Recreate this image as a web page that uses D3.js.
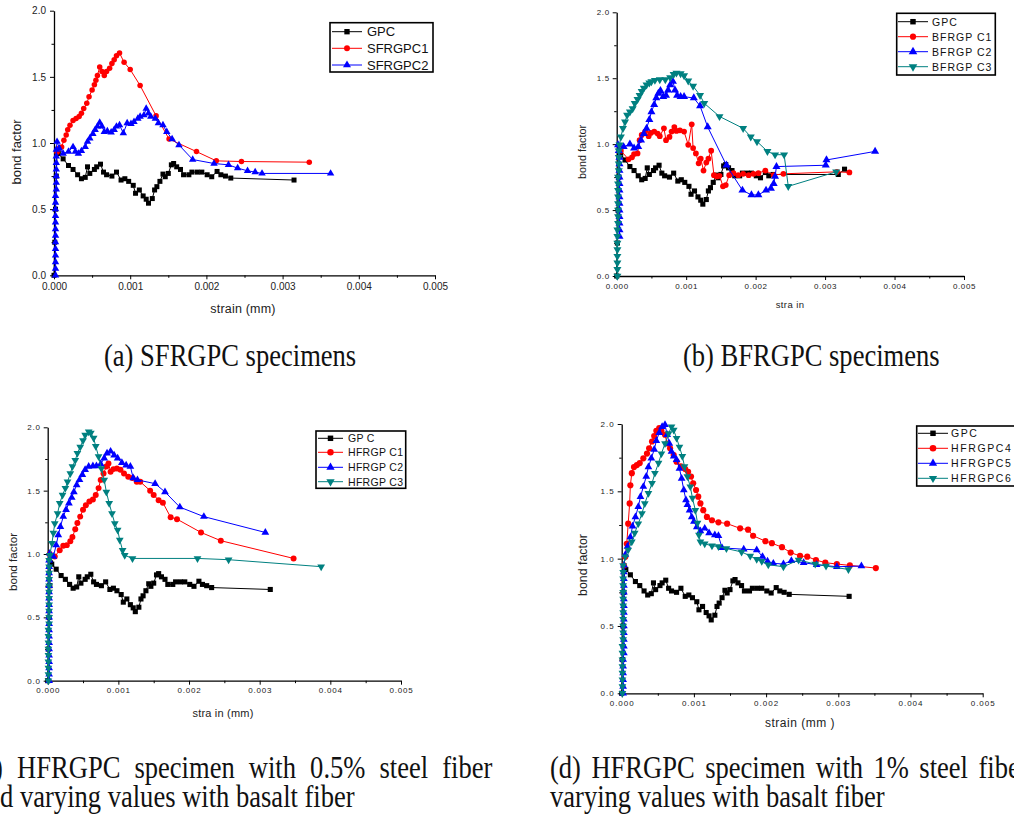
<!DOCTYPE html>
<html><head><meta charset="utf-8">
<script src="https://cdn.jsdelivr.net/npm/d3@7/dist/d3.min.js"></script>
<style>body{margin:0;background:#fff}svg{display:block}</style>
</head><body>
<svg id="fig" width="1014" height="817"></svg>
<script>
// ---------- tick labels ----------
const xTickValues = [0, 0.001, 0.002, 0.003, 0.004, 0.005];
const xTickLabels = ["0.000", "0.001", "0.002", "0.003", "0.004", "0.005"];
const xMinorValues = [0.0005, 0.0015, 0.0025, 0.0035, 0.0045];
const yTickValues = [0, 0.5, 1.0, 1.5, 2.0];
const yTickLabels = ["0.0", "0.5", "1.0", "1.5", "2.0"];
const yMinorValues = [0.25, 0.75, 1.25, 1.75];

// ---------- data: [strain, bond factor] ----------
const gpc = [[0,0],[0.00001,0.25],[0.00002,0.5],[0.00003,0.75],[0.00004,0.93],
 [0.000057,0.92],[0.00012,0.88],[0.00019,0.83],[0.00025,0.80],[0.00031,0.76],[0.00036,0.73],[0.00041,0.74],
 [0.00044,0.82],[0.00047,0.77],[0.00053,0.80],[0.00056,0.82],[0.00061,0.84],[0.00065,0.78],[0.00069,0.76],
 [0.00076,0.75],[0.00082,0.78],[0.00088,0.72],[0.00093,0.73],[0.00098,0.71],[0.00104,0.68],[0.00107,0.62],
 [0.00112,0.645],[0.00117,0.60],[0.00121,0.575],[0.00124,0.545],[0.00129,0.58],[0.00132,0.645],[0.00135,0.67],
 [0.00139,0.71],[0.00143,0.765],[0.00146,0.745],[0.0015,0.77],[0.00154,0.835],[0.00157,0.845],[0.00161,0.82],
 [0.00166,0.80],[0.0017,0.76],[0.00177,0.76],[0.00181,0.78],[0.00188,0.78],[0.00194,0.78],[0.00201,0.76],
 [0.00207,0.745],[0.00214,0.785],[0.00219,0.76],[0.00225,0.75],[0.00232,0.735],[0.00315,0.72]];

const gpcB = [[0,0],[0.00001,0.25],[0.00002,0.5],[0.00003,0.75],[0.00004,0.93],
 [0.000057,0.92],[0.00012,0.88],[0.00019,0.83],[0.00025,0.80],[0.00031,0.76],[0.00036,0.73],[0.00041,0.74],
 [0.00044,0.82],[0.00047,0.77],[0.00053,0.80],[0.00056,0.82],[0.00061,0.84],[0.00065,0.78],[0.00069,0.76],
 [0.00076,0.75],[0.00082,0.78],[0.00088,0.72],[0.00093,0.73],[0.00098,0.71],[0.00104,0.68],[0.00107,0.62],
 [0.00112,0.645],[0.00117,0.60],[0.00121,0.575],[0.00124,0.545],[0.00129,0.58],[0.00132,0.645],[0.00135,0.67],
 [0.00139,0.71],[0.00143,0.765],[0.00146,0.745],[0.0015,0.77],[0.00154,0.835],[0.00157,0.845],[0.00161,0.82],
 [0.00166,0.80],[0.0017,0.76],[0.00177,0.76],[0.00181,0.78],[0.00188,0.78],[0.00194,0.78],[0.00201,0.76],
 [0.00207,0.745],[0.00214,0.785],[0.00219,0.76],[0.00225,0.77],[0.00319,0.77],[0.00328,0.81]];

// (a)
const sfrgpc1 = [[0.00004,0.93],[0.00007,0.96],[0.0001,0.97],[0.00013,1.02],[0.00016,1.06],[0.00018,1.10],
 [0.00021,1.135],[0.00025,1.17],[0.00029,1.185],[0.00033,1.20],[0.00036,1.225],[0.00039,1.26],[0.00043,1.30],
 [0.00046,1.35],[0.0005,1.40],[0.00053,1.44],[0.00055,1.475],[0.00057,1.51],[0.0006,1.575],[0.00063,1.54],
 [0.00066,1.51],[0.00069,1.54],[0.00073,1.565],[0.00076,1.60],[0.00079,1.63],[0.00082,1.66],[0.00086,1.68],
 [0.00092,1.61],[0.001,1.555],[0.00113,1.435],[0.00134,1.205],[0.00151,1.03],[0.00187,0.935],[0.00213,0.865],
 [0.00246,0.86],[0.00335,0.855]];
const sfrgpc2 = [[0.00002,0],[0.00002,0.05],[0.00002,0.1],[0.00002,0.15],[0.00002,0.2],[0.00002,0.25],[0.00002,0.3],
 [0.00002,0.35],[0.00002,0.4],[0.00002,0.45],[0.00002,0.5],[0.00002,0.55],[0.00002,0.6],[0.00003,0.65],[0.00003,0.7],
 [0.00003,0.75],[0.00003,0.8],[0.00003,0.85],[0.00003,0.9],[0.00003,0.95],[0.00004,1.01],
 [0.00007,0.96],[0.00012,0.92],[0.00019,0.935],[0.00025,0.97],[0.00028,0.935],[0.00032,0.92],[0.00036,0.94],
 [0.00041,0.97],[0.00044,1.01],[0.00047,1.035],[0.00051,1.07],[0.00054,1.10],[0.00057,1.125],[0.0006,1.155],
 [0.00063,1.125],[0.00066,1.085],[0.0007,1.09],[0.00075,1.08],[0.00079,1.10],[0.00082,1.125],[0.00086,1.135],
 [0.00091,1.075],[0.00096,1.15],[0.00101,1.145],[0.00105,1.16],[0.0011,1.185],[0.00113,1.20],[0.00118,1.21],
 [0.00121,1.26],[0.00124,1.225],[0.00127,1.20],[0.00133,1.185],[0.00137,1.15],[0.00143,1.135],[0.00148,1.085],
 [0.00155,1.03],[0.00164,0.985],[0.00182,0.875],[0.0021,0.845],[0.00229,0.835],[0.00241,0.81],[0.00254,0.79],
 [0.00264,0.78],[0.00273,0.77],[0.00363,0.77]];

// (b)
const bfrgpc1 = [[0.00006,0.95],[0.00017,0.885],[0.00022,0.90],[0.00025,0.925],[0.0003,0.93],[0.00033,1.03],
 [0.00036,1.07],[0.00041,1.095],[0.00046,1.06],[0.00049,1.085],[0.00054,1.095],[0.00059,1.08],[0.00062,1.06],
 [0.00068,1.12],[0.00071,1.03],[0.00076,1.055],[0.00079,1.095],[0.00083,1.13],[0.00086,1.10],[0.00091,1.105],
 [0.00097,1.095],[0.00103,0.995],[0.00108,1.15],[0.0011,0.97],[0.00114,0.93],[0.00118,0.855],[0.00121,0.89],
 [0.00125,0.80],[0.00129,0.86],[0.00132,0.89],[0.00136,0.95],[0.0014,0.765],[0.00144,0.755],[0.00148,0.76],
 [0.00153,0.68],[0.00157,0.69],[0.00162,0.765],[0.00168,0.78],[0.00175,0.765],[0.00182,0.775],[0.0019,0.765],
 [0.00197,0.775],[0.00204,0.78],[0.00214,0.80],[0.00226,0.765],[0.0024,0.775],[0.00317,0.79],[0.00335,0.785]];
const bfrgpc2 = [[0.00004,0.3],[0.00004,0.35],[0.00004,0.4],[0.00004,0.45],[0.00004,0.5],[0.00004,0.55],
 [0.00004,0.6],[0.00004,0.65],[0.00004,0.7],[0.00004,0.75],[0.00004,0.8],[0.00004,0.85],[0.00004,0.9],[0.00003,0.95],
 [0.00002,0.995],[0.0001,0.98],[0.00019,1.0],[0.00025,0.97],[0.00031,0.98],[0.00035,1.03],[0.00039,1.08],
 [0.00043,1.12],[0.00047,1.185],[0.0005,1.245],[0.00054,1.30],[0.00057,1.35],[0.0006,1.385],[0.00063,1.405],
 [0.00067,1.36],[0.00071,1.37],[0.00074,1.41],[0.00077,1.45],[0.00081,1.475],[0.00084,1.41],[0.00087,1.37],
 [0.00092,1.36],[0.00097,1.36],[0.00111,1.35],[0.0012,1.29],[0.00131,1.13],[0.00158,0.84],[0.00181,0.65],
 [0.00194,0.615],[0.00204,0.615],[0.00215,0.65],[0.00222,0.665],[0.00226,0.70],[0.00228,0.755],[0.0023,0.83],
 [0.00301,0.84],[0.00302,0.88],[0.00372,0.945]];
const bfrgpc3 = [[0.00001,0],[0.00001,0.05],[0.00001,0.1],[0.00001,0.15],[0.00001,0.2],[0.00001,0.25],[0.00001,0.3],
 [0.00001,0.35],[0.00002,0.4],[0.00002,0.45],[0.00002,0.5],[0.00002,0.55],[0.00002,0.6],[0.00002,0.65],
 [0.00002,0.7],[0.00002,0.75],[0.00003,0.8],[0.00003,0.85],[0.00003,0.9],[0.00003,0.95],
 [0.00004,0.995],[0.00006,1.055],[0.00009,1.12],[0.00012,1.17],[0.00015,1.22],[0.00019,1.245],[0.00023,1.27],
 [0.00026,1.31],[0.0003,1.34],[0.00033,1.37],[0.00036,1.40],[0.00039,1.425],[0.00043,1.45],[0.00047,1.465],
 [0.0005,1.475],[0.00055,1.485],[0.00062,1.49],[0.0007,1.49],[0.00077,1.505],[0.00082,1.53],[0.00086,1.54],
 [0.00092,1.535],[0.00097,1.52],[0.00103,1.48],[0.0011,1.44],[0.0012,1.37],[0.00126,1.31],[0.00148,1.21],
 [0.00182,1.12],[0.00193,1.055],[0.00202,1.02],[0.00217,0.945],[0.00228,0.92],[0.00241,0.92],[0.00247,0.68],
 [0.00316,0.79]];

// (c)
const hfrgpc1 = [[0.00003,1.0],[0.0001,0.98],[0.00017,1.03],[0.00022,1.065],[0.00027,1.07],[0.00032,1.10],
 [0.00035,1.135],[0.00039,1.195],[0.00042,1.245],[0.00046,1.295],[0.0005,1.35],[0.00054,1.385],[0.00059,1.415],
 [0.00064,1.43],[0.00068,1.465],[0.00072,1.52],[0.00075,1.585],[0.00079,1.635],[0.00083,1.69],[0.00086,1.715],
 [0.00089,1.65],[0.00093,1.67],[0.00098,1.675],[0.00103,1.665],[0.00108,1.635],[0.00114,1.61],[0.0012,1.60],
 [0.00126,1.57],[0.00131,1.57],[0.00145,1.50],[0.0015,1.465],[0.00157,1.425],[0.00163,1.405],[0.00174,1.29],
 [0.00183,1.275],[0.00217,1.17],[0.00245,1.105],[0.00348,0.965]];
const hfrgpc2 = [[0.00002,0],[0.00002,0.05],[0.00002,0.1],[0.00002,0.15],[0.00002,0.2],[0.00002,0.25],[0.00002,0.3],
 [0.00002,0.35],[0.00002,0.4],[0.00002,0.45],[0.00002,0.5],[0.00002,0.55],[0.00002,0.6],[0.00002,0.65],
 [0.00002,0.7],[0.00002,0.75],[0.00002,0.8],[0.00002,0.85],[0.00002,0.9],[0.00002,0.95],
 [0.00003,1.005],[0.00008,0.98],[0.00012,1.07],[0.00015,1.15],[0.00018,1.215],[0.00022,1.295],[0.00026,1.35],
 [0.0003,1.40],[0.00034,1.445],[0.00037,1.49],[0.00041,1.545],[0.00045,1.585],[0.00049,1.625],[0.00053,1.665],
 [0.00058,1.69],[0.00064,1.695],[0.00069,1.695],[0.00075,1.71],[0.0008,1.755],[0.00084,1.795],[0.00089,1.81],
 [0.00094,1.78],[0.00099,1.755],[0.00105,1.72],[0.00111,1.70],[0.00117,1.69],[0.00121,1.60],[0.00127,1.585],
 [0.00152,1.555],[0.00166,1.49],[0.00187,1.37],[0.00221,1.295],[0.00308,1.17]];
const hfrgpc3 = [[0.00001,0],[0.00001,0.05],[0.00001,0.1],[0.00001,0.15],[0.00001,0.2],[0.00001,0.25],[0.00001,0.3],
 [0.00001,0.35],[0.00001,0.4],[0.00002,0.45],[0.00002,0.5],[0.00002,0.55],[0.00002,0.6],[0.00002,0.65],
 [0.00002,0.7],[0.00002,0.75],[0.00002,0.8],[0.00002,0.85],[0.00002,0.9],[0.00002,0.95],
 [0.00003,0.99],[0.00006,1.085],[0.00008,1.165],[0.0001,1.24],[0.00014,1.32],[0.00017,1.40],[0.00021,1.465],
 [0.00025,1.52],[0.00028,1.57],[0.00032,1.635],[0.00035,1.69],[0.00039,1.74],[0.00042,1.795],[0.00046,1.845],
 [0.0005,1.895],[0.00053,1.94],[0.00058,1.965],[0.00061,1.955],[0.00065,1.915],[0.00068,1.85],[0.00072,1.77],
 [0.00076,1.675],[0.0008,1.585],[0.00083,1.49],[0.00087,1.40],[0.00091,1.32],[0.00095,1.24],[0.00099,1.19],
 [0.00102,1.11],[0.00106,1.03],[0.00109,0.99],[0.0012,0.965],[0.00212,0.965],[0.00256,0.955],[0.00387,0.90]];

// (d)
const hfrgpc4 = [[0.00003,0.95],[0.00005,1.015],[0.00007,1.11],[0.00009,1.26],[0.00011,1.41],[0.00012,1.545],
 [0.00014,1.635],[0.00017,1.68],[0.00021,1.695],[0.00025,1.71],[0.0003,1.745],[0.00035,1.78],[0.00038,1.82],
 [0.00042,1.87],[0.00045,1.91],[0.00048,1.95],[0.00052,1.97],[0.00055,1.95],[0.0006,1.92],[0.00063,1.855],
 [0.00067,1.82],[0.00072,1.77],[0.00076,1.72],[0.00082,1.685],[0.00088,1.665],[0.00092,1.645],[0.00096,1.61],
 [0.00099,1.56],[0.00103,1.51],[0.00106,1.46],[0.00109,1.41],[0.00113,1.36],[0.00118,1.31],[0.00125,1.285],
 [0.00134,1.27],[0.00146,1.26],[0.00164,1.225],[0.00175,1.215],[0.00182,1.17],[0.00199,1.13],[0.00208,1.115],
 [0.00222,1.085],[0.00234,1.045],[0.00247,1.02],[0.00257,1.015],[0.00269,0.99],[0.00282,0.97],[0.00298,0.96],
 [0.00316,0.95],[0.00352,0.93]];
const hfrgpc5 = [[0.00002,0],[0.00002,0.05],[0.00002,0.1],[0.00002,0.15],[0.00002,0.2],[0.00002,0.25],[0.00003,0.3],
 [0.00003,0.35],[0.00003,0.4],[0.00003,0.45],[0.00003,0.5],[0.00003,0.55],[0.00003,0.6],[0.00003,0.65],
 [0.00003,0.7],[0.00003,0.75],[0.00003,0.8],[0.00003,0.85],[0.00003,0.9],[0.00003,0.95],
 [0.00005,1.03],[0.00008,1.09],[0.00012,1.16],[0.00015,1.24],[0.00019,1.31],[0.00023,1.385],[0.00026,1.46],
 [0.0003,1.535],[0.00034,1.61],[0.00037,1.68],[0.00041,1.745],[0.00045,1.81],[0.00048,1.875],[0.00052,1.935],
 [0.00056,1.98],[0.0006,1.995],[0.00063,1.92],[0.00066,1.855],[0.00069,1.795],[0.00072,1.76],[0.00076,1.735],
 [0.0008,1.67],[0.00083,1.595],[0.00086,1.51],[0.00089,1.435],[0.00091,1.40],[0.00094,1.36],[0.00097,1.31],
 [0.001,1.275],[0.00104,1.235],[0.00109,1.205],[0.00115,1.225],[0.00121,1.19],[0.00129,1.175],[0.00134,1.17],
 [0.00139,1.08],[0.00169,1.07],[0.00187,1.065],[0.00195,1.015],[0.00202,0.98],[0.0021,0.965],[0.00224,0.96],
 [0.00235,0.985],[0.00252,0.97],[0.0027,0.955],[0.00298,0.94],[0.00332,0.945]];
const hfrgpc6 = [[0.00001,0],[0.00001,0.05],[0.00001,0.1],[0.00001,0.15],[0.00001,0.2],[0.00001,0.25],[0.00001,0.3],
 [0.00001,0.35],[0.00002,0.4],[0.00002,0.45],[0.00002,0.5],[0.00002,0.55],[0.00002,0.6],[0.00002,0.65],
 [0.00002,0.7],[0.00002,0.75],[0.00002,0.8],[0.00002,0.85],[0.00002,0.9],[0.00002,0.95],
 [0.00005,1.015],[0.00009,1.065],[0.00014,1.125],[0.00018,1.19],[0.00023,1.26],[0.00028,1.335],[0.00032,1.41],
 [0.00037,1.485],[0.00042,1.56],[0.00046,1.635],[0.00051,1.71],[0.00055,1.78],[0.0006,1.855],[0.00065,1.93],
 [0.00069,1.98],[0.00072,1.955],[0.00076,1.895],[0.0008,1.83],[0.00084,1.76],[0.00087,1.685],[0.00091,1.61],
 [0.00095,1.535],[0.00098,1.45],[0.00102,1.36],[0.00105,1.265],[0.00107,1.175],[0.00109,1.125],[0.00115,1.11],
 [0.00125,1.095],[0.00134,1.09],[0.00145,1.075],[0.00166,1.05],[0.00178,1.02],[0.00187,0.995],[0.00194,0.98],
 [0.00203,0.955],[0.00224,0.94],[0.00245,0.99],[0.00268,0.96],[0.00283,0.945],[0.00314,0.92]];

// ---------- legend names ----------
const namesA = ["GPC", "SFRGPC1", "SFRGPC2"];
const namesB = ["GPC", "BFRGP C1", "BFRGP C2", "BFRGP C3"];
const namesC = ["GP C", "HFRGP C1", "HFRGP C2", "HFRGP C3"];
const namesD = ["GPC", "HFRGPC4", "HFRGPC5", "HFRGPC6"];

// ---------- drawing ----------
const svg = d3.select("#fig");
const BLACK = "#000", RED = "#ff0000", BLUE = "#0000ff", TEAL = "#008080";
const SANS = "'Liberation Sans', Arial, Helvetica, sans-serif";
const SERIF = "'Liberation Serif', 'Times New Roman', serif";

const markerDefs = {
  square: {type: d3.symbolSquare, rot: 0},
  circle: {type: d3.symbolCircle, rot: 0},
  tri: {type: d3.symbolTriangle, rot: 0},
  triDown: {type: d3.symbolTriangle, rot: 180}
};

function panel(cfg) {
  const g = svg.append("g");
  const x = d3.scaleLinear().domain([0, 0.005]).range([cfg.x0, cfg.x1]);
  const y = d3.scaleLinear().domain([0, 2]).range([cfg.yb, cfg.yt]);

  const ax = g.append("g").attr("transform", `translate(0,${cfg.yb})`)
    .call(d3.axisBottom(x).tickValues(xTickValues).tickSize(4).tickSizeOuter(0)
      .tickFormat((d, i) => xTickLabels[i]));
  const axm = g.append("g").attr("transform", `translate(0,${cfg.yb})`)
    .call(d3.axisBottom(x).tickValues(xMinorValues).tickSize(2.5).tickSizeOuter(0).tickFormat(""));
  const ay = g.append("g").attr("transform", `translate(${cfg.x0},0)`)
    .call(d3.axisLeft(y).tickValues(yTickValues).tickSize(4).tickSizeOuter(0)
      .tickFormat((d, i) => yTickLabels[i]));
  const aym = g.append("g").attr("transform", `translate(${cfg.x0},0)`)
    .call(d3.axisLeft(y).tickValues(yMinorValues).tickSize(2.5).tickSizeOuter(0).tickFormat(""));
  [ax, axm, ay, aym].forEach(a => {
    a.select(".domain").attr("stroke", "#000").attr("stroke-width", 1.3);
    a.selectAll(".tick line").attr("stroke", "#000").attr("stroke-width", 1);
  });
  axm.select(".domain").remove(); aym.select(".domain").remove();
  ax.selectAll(".tick text").attr("font-family", SANS).attr("font-size", cfg.tickFs)
    .attr("letter-spacing", cfg.tickLs).attr("fill", "#222").attr("dy", null).attr("y", cfg.xlabDy)
    .attr("dominant-baseline", "hanging");
  ay.selectAll(".tick text").attr("font-family", SANS).attr("font-size", cfg.tickFs)
    .attr("letter-spacing", cfg.tickLs).attr("fill", "#222").attr("x", -cfg.ylabDx);

  g.append("text").attr("x", cfg.xtX).attr("y", cfg.xtY).attr("text-anchor", "middle")
    .attr("font-family", SANS).attr("font-size", cfg.titleFs).attr("letter-spacing", cfg.titleLs)
    .attr("fill", "#222").text(cfg.xTitle);
  g.append("text").attr("transform", `translate(${cfg.ytX},${cfg.ytY}) rotate(-90)`)
    .attr("text-anchor", "middle").attr("dominant-baseline", "central")
    .attr("font-family", SANS).attr("font-size", cfg.yTitleFs).attr("fill", "#222").text("bond factor");

  const line = d3.line().x(d => x(d[0])).y(d => y(d[1]));
  cfg.series.forEach(s => {
    g.append("path").datum(s.data).attr("d", line).attr("fill", "none")
      .attr("stroke", s.color).attr("stroke-width", 1);
    const m = markerDefs[s.marker];
    const sym = d3.symbol().type(m.type).size(cfg.msize[s.marker]);
    g.append("g").selectAll("path").data(s.data).join("path")
      .attr("transform", d => `translate(${x(d[0])},${y(d[1])}) rotate(${m.rot})`)
      .attr("d", sym).attr("fill", s.color);
  });

  const L = cfg.legend;
  g.append("rect").attr("x", L.x).attr("y", L.y).attr("width", L.w).attr("height", L.h)
    .attr("fill", "#fff").attr("stroke", "#000").attr("stroke-width", 1.6);
  cfg.series.forEach((s, i) => {
    const yy = L.rows[i];
    g.append("line").attr("x1", L.lx1).attr("x2", L.lx2).attr("y1", yy).attr("y2", yy)
      .attr("stroke", s.color).attr("stroke-width", 1);
    const m = markerDefs[s.marker];
    g.append("path").attr("transform", `translate(${(L.lx1 + L.lx2) / 2},${yy}) rotate(${m.rot})`)
      .attr("d", d3.symbol().type(m.type).size(cfg.msize[s.marker] * 1.15)).attr("fill", s.color);
    g.append("text").attr("x", L.tx).attr("y", yy).attr("dominant-baseline", "central")
      .attr("font-family", SANS).attr("font-size", L.fs).attr("letter-spacing", L.ls)
      .attr("fill", "#111").text(cfg.names[i]);
  });
}

panel({
  x0: 54, x1: 435, yb: 275.3, yt: 10.7,
  tickFs: 10, tickLs: 0, xlabDy: 7, ylabDx: 8,
  titleFs: 12.5, titleLs: 0.2, yTitleFs: 13, xTitle: "strain (mm)", xtX: 243, xtY: 313, ytX: 16, ytY: 152,
  msize: {square: 25, circle: 24, tri: 24, triDown: 24},
  names: namesA,
  series: [
    {data: gpc, color: BLACK, marker: "square"},
    {data: sfrgpc1, color: RED, marker: "circle"},
    {data: sfrgpc2, color: BLUE, marker: "tri"}
  ],
  legend: {x: 330, y: 22.7, w: 103, h: 49.3, rows: [31.7, 48.3, 65], lx1: 332, lx2: 362, tx: 367, fs: 13, ls: 0}
});

panel({
  x0: 616.7, x1: 964, yb: 276, yt: 12.3,
  tickFs: 8, tickLs: 0.6, xlabDy: 7, ylabDx: 7,
  titleFs: 9.5, titleLs: 0.4, yTitleFs: 10.8, xTitle: "stra in", xtX: 790, xtY: 308, ytX: 581.7, ytY: 152,
  msize: {square: 26, circle: 26, tri: 28, triDown: 28},
  names: namesB,
  series: [
    {data: gpcB, color: BLACK, marker: "square"},
    {data: bfrgpc1, color: RED, marker: "circle"},
    {data: bfrgpc2, color: BLUE, marker: "tri"},
    {data: bfrgpc3, color: TEAL, marker: "triDown"}
  ],
  legend: {x: 896.7, y: 13.3, w: 98.6, h: 61.7, rows: [21.7, 36.7, 51.7, 66.7], lx1: 898, lx2: 928, tx: 932, fs: 10.5, ls: 1}
});

panel({
  x0: 47.7, x1: 401, yb: 680.7, yt: 427.3,
  tickFs: 8, tickLs: 0.8, xlabDy: 7, ylabDx: 7,
  titleFs: 11, titleLs: 0.2, yTitleFs: 11.6, xTitle: "stra in (mm)", xtX: 223, xtY: 717, ytX: 12, ytY: 562,
  msize: {square: 26, circle: 28, tri: 26, triDown: 26},
  names: namesC,
  series: [
    {data: gpc, color: BLACK, marker: "square"},
    {data: hfrgpc1, color: RED, marker: "circle"},
    {data: hfrgpc2, color: BLUE, marker: "tri"},
    {data: hfrgpc3, color: TEAL, marker: "triDown"}
  ],
  legend: {x: 316, y: 431, w: 89.7, h: 57.3, rows: [438.3, 452.3, 467.3, 481.7], lx1: 318, lx2: 343, tx: 348, fs: 10.5, ls: 0.3}
});

panel({
  x0: 621.7, x1: 982.7, yb: 693.3, yt: 424,
  tickFs: 8, tickLs: 1, xlabDy: 7, ylabDx: 7,
  titleFs: 12, titleLs: 0.5, yTitleFs: 12.4, xTitle: "strain (mm )", xtX: 800, xtY: 727, ytX: 583, ytY: 565,
  msize: {square: 26, circle: 30, tri: 26, triDown: 26},
  names: namesD,
  series: [
    {data: gpc, color: BLACK, marker: "square"},
    {data: hfrgpc4, color: RED, marker: "circle"},
    {data: hfrgpc5, color: BLUE, marker: "tri"},
    {data: hfrgpc6, color: TEAL, marker: "triDown"}
  ],
  legend: {x: 916.7, y: 426, w: 120, h: 60, rows: [433.3, 448.3, 463.3, 478.3], lx1: 918, lx2: 948, tx: 951, fs: 10.5, ls: 1.6}
});

// ---------- captions ----------
function caption(text, x, y, ws) {
  svg.append("text").attr("transform", `translate(${x},${y}) scale(0.83,1)`)
    .attr("font-family", SERIF).attr("font-size", 32).attr("word-spacing", ws)
    .attr("fill", "#111").text(text);
}
caption("(a) SFRGPC specimens", 104, 366, 0);
caption("(b) BFRGPC specimens", 683, 366, 0);
caption("(c) HFRGPC specimen with 0.5% steel fiber", -26.5, 778, 9);
caption("and varying values with basalt fiber", -25, 807, 0);
caption("(d) HFRGPC specimen with 1% steel fiber and", 550, 778, 4.6);
caption("varying values with basalt fiber", 550, 807, 0);
</script>
</body></html>
